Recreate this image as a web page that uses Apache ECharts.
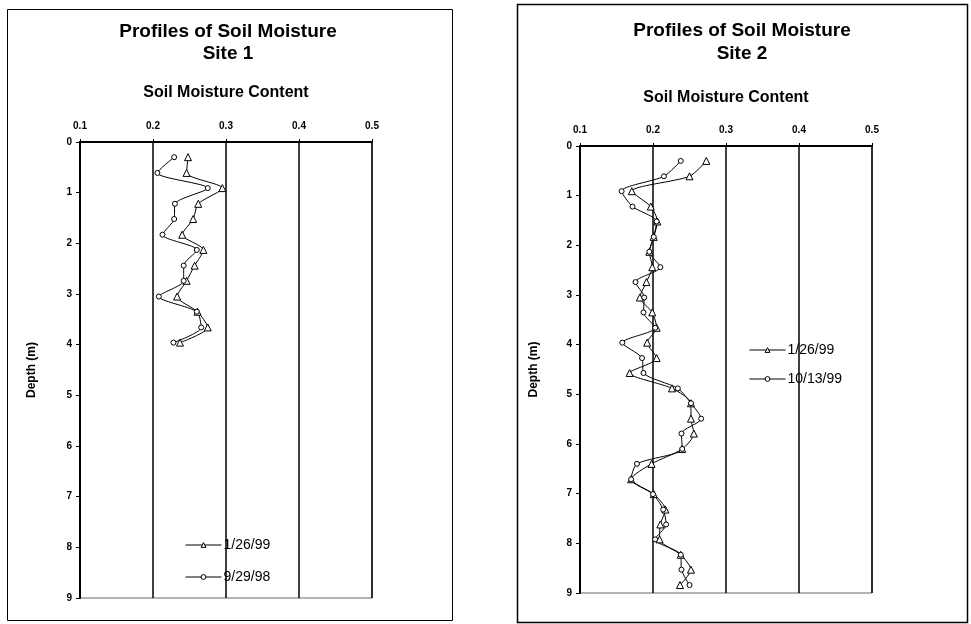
<!DOCTYPE html>
<html>
<head>
<meta charset="utf-8">
<script src="https://cdn.jsdelivr.net/npm/echarts@6/dist/echarts.min.js"></script>
<style>html,body{margin:0;padding:0;background:#fff}#c{width:971px;height:624px}</style>
</head>
<body>
<div id="c"></div>
<script>
// ---- Data ----
var xTicks = [0.1, 0.2, 0.3, 0.4, 0.5];
var yTicks = [0, 1, 2, 3, 4, 5, 6, 7, 8, 9];

var site1Depth = [0.30, 0.61, 0.91, 1.22, 1.52, 1.83, 2.13, 2.44, 2.74, 3.05, 3.35, 3.66, 3.96];
var site1Jan99 = [0.248, 0.246, 0.295, 0.262, 0.255, 0.240, 0.269, 0.257, 0.246, 0.233, 0.261, 0.275, 0.237];
var site1Sep98 = [0.229, 0.206, 0.275, 0.230, 0.229, 0.213, 0.260, 0.242, 0.242, 0.208, 0.260, 0.266, 0.228];

var site2Depth = [0.30, 0.61, 0.91, 1.22, 1.52, 1.83, 2.13, 2.44, 2.74, 3.05, 3.35, 3.66, 3.96, 4.27, 4.57,
                  4.88, 5.18, 5.49, 5.79, 6.10, 6.40, 6.71, 7.01, 7.32, 7.62, 7.92, 8.23, 8.53, 8.84];
var site2Jan99 = [0.273, 0.250, 0.171, 0.197, 0.206, 0.201, 0.195, 0.199, 0.191, 0.182, 0.199, 0.205, 0.192, 0.205, 0.168,
                  0.226, 0.252, 0.252, 0.256, 0.240, 0.198, 0.170, 0.201, 0.217, 0.210, 0.209, 0.238, 0.252, 0.237];
var site2Oct99 = [0.238, 0.215, 0.157, 0.172, 0.205, 0.201, 0.195, 0.210, 0.176, 0.188, 0.187, 0.203, 0.158, 0.185, 0.187,
                  0.234, 0.252, 0.266, 0.239, 0.240, 0.178, 0.170, 0.200, 0.214, 0.218, 0.203, 0.238, 0.239, 0.250];

var site1Labels = ['1/26/99', '9/29/98'];
var site2Labels = ['1/26/99', '10/13/99'];
var titleLine1 = 'Profiles of Soil Moisture';
var xName = 'Soil Moisture Content';
var yName = 'Depth (m)';

function pairs(xs, ys) { return xs.map(function (v, i) { return [v, ys[i]]; }); }

var FONT = '"Liberation Sans", Arial, sans-serif';

function xAxisCfg(idx, gap) {
  return {
    gridIndex: idx, type: 'value', position: 'top', min: xTicks[0], max: xTicks[xTicks.length - 1], interval: 0.1,
    name: xName, nameLocation: 'middle', nameGap: gap,
    nameTextStyle: { fontFamily: FONT, fontWeight: 'bold', fontSize: 16, color: '#000' },
    axisLine: { show: true, onZero: false, lineStyle: { color: '#000', width: 2 } },
    axisTick: { show: true, length: 3, inside: false, lineStyle: { color: '#000' } },
    axisLabel: { fontFamily: FONT, fontWeight: 'bold', fontSize: 10, color: '#000', margin: 11,
      formatter: function (v) { return v.toFixed(1); } },
    splitLine: { show: true, lineStyle: { color: '#000', width: 1.5 } }
  };
}
function yAxisCfg(idx, gap) {
  return {
    gridIndex: idx, type: 'value', inverse: true, min: yTicks[0], max: yTicks[yTicks.length - 1], interval: 1,
    name: yName, nameLocation: 'middle', nameGap: gap, nameRotate: 90,
    nameTextStyle: { fontFamily: FONT, fontWeight: 'bold', fontSize: 12, color: '#000' },
    axisLine: { show: true, onZero: false, lineStyle: { color: '#000', width: 2 } },
    axisTick: { show: true, length: 4, lineStyle: { color: '#000' } },
    axisLabel: { fontFamily: FONT, fontWeight: 'bold', fontSize: 10, color: '#000', margin: 8 },
    splitLine: { show: false }
  };
}
function seriesCfg(name, idx, data, symbol, size) {
  return {
    name: name, type: 'line', xAxisIndex: idx, yAxisIndex: idx, data: data,
    symbol: symbol, symbolSize: size, showAllSymbol: true, smooth: 0.25,
    lineStyle: { color: '#000', width: 1 },
    itemStyle: { color: '#fff', borderColor: '#000', borderWidth: 1 },
    emphasis: { disabled: true }, animation: false, z: 3
  };
}
function legendCfg(names, left, top, gap) {
  return {
    orient: 'vertical', left: left, top: top, padding: 0, itemWidth: 36, itemHeight: 6, itemGap: gap,
    data: names,
    itemStyle: { color: '#fff', borderColor: '#000', borderWidth: 1 },
    lineStyle: { color: '#000', width: 1 },
    textStyle: { fontFamily: FONT, fontSize: 14, color: '#000', padding: [0, 0, 0, -3] },
    inactiveColor: '#000', selectedMode: false
  };
}
function centerText(x, y, txt, size) {
  return { type: 'text', x: x, y: y, style: { text: txt, align: 'center', verticalAlign: 'middle',
    font: 'bold ' + size + 'px ' + FONT, fill: '#000' } };
}

var chart = echarts.init(document.getElementById('c'), null, { renderer: 'canvas' });
chart.setOption({
  backgroundColor: '#fff',
  animation: false,
  grid: [
    { left: 80, top: 142, width: 292, height: 456, show: true, borderColor: '#666', borderWidth: 1, backgroundColor: 'transparent' },
    { left: 580, top: 146, width: 292, height: 447, show: true, borderColor: '#666', borderWidth: 1, backgroundColor: 'transparent' }
  ],
  xAxis: [xAxisCfg(0, 41), xAxisCfg(1, 40)],
  yAxis: [yAxisCfg(0, 42), yAxisCfg(1, 40)],
  legend: [
    legendCfg(site1Labels, 185, 538, 18),
    legendCfg(site2Labels, 749, 343, 15)
  ],
  series: [
    seriesCfg(site1Labels[0], 0, pairs(site1Jan99, site1Depth), 'triangle', 7),
    seriesCfg(site1Labels[1], 0, pairs(site1Sep98, site1Depth), 'circle', 5),
    seriesCfg(site2Labels[0], 1, pairs(site2Jan99, site2Depth), 'triangle', 7),
    seriesCfg(site2Labels[1], 1, pairs(site2Oct99, site2Depth), 'circle', 5)
  ],
  graphic: [
    { type: 'rect', shape: { x: 7.5, y: 9.5, width: 445, height: 611 }, style: { fill: 'none', stroke: '#000', lineWidth: 1 }, silent: true },
    { type: 'rect', shape: { x: 517.5, y: 4.5, width: 450, height: 618 }, style: { fill: 'none', stroke: '#000', lineWidth: 1.5 }, silent: true },
    centerText(228, 32, titleLine1, 19),
    centerText(228, 54, 'Site 1', 19),
    centerText(742, 31, titleLine1, 19),
    centerText(742, 54, 'Site 2', 19)
  ]
});
</script>
</body>
</html>
